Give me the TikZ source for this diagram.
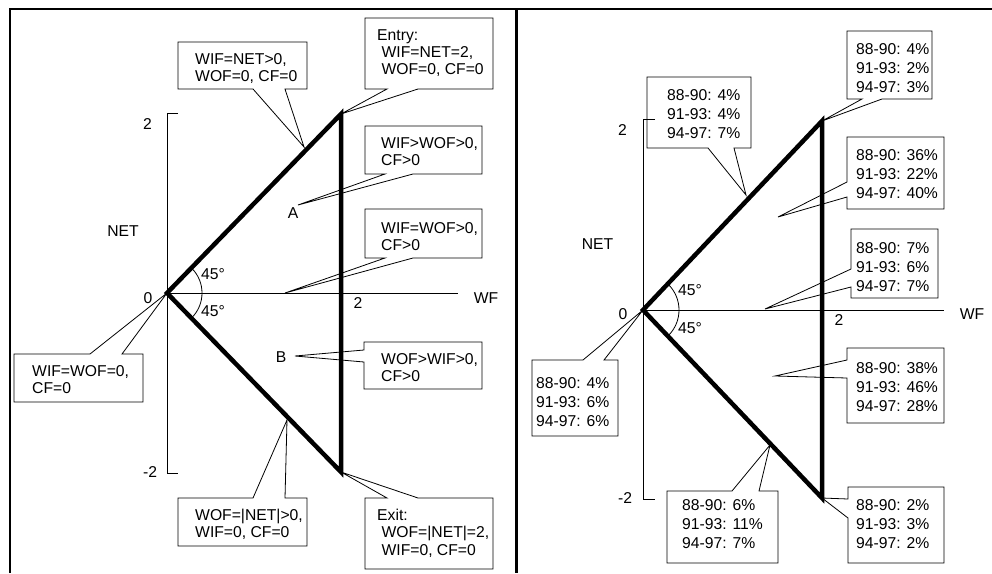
\documentclass[tikz,border=0pt]{standalone}
\usepackage{fontspec}
\setmainfont{Liberation Sans}
\begin{document}
\begin{tikzpicture}[x=1pt,y=-1pt,
  callout/.style={draw=black, line width=0.8pt, line join=miter},
  boldedge/.style={line width=4.5pt, line join=miter},
  axisline/.style={line width=0.8pt},
  framerule/.style={line width=2.6pt},
  lbl/.style={inner sep=0pt, font=\fontsize{15.7}{17.4}\selectfont},
  ltxt/.style={anchor=north west, inner sep=0pt, align=left, font=\fontsize{15.7}{17.4}\selectfont},
  rtxt/.style={anchor=north west, inner sep=0pt, align=left, font=\fontsize{15.7}{19.4}\selectfont},
]
\useasboundingbox (0,0) rectangle (992,573);
% frame
\coordinate (F1) at (10,573);
\coordinate (F2) at (10,9);
\coordinate (F3) at (992,9);
\coordinate (D1) at (516,9);
\coordinate (D2) at (516,573);
\draw[framerule] (F1) -- (F2) -- (F3);
\draw[line width=3pt] (D1) -- (D2);

% ================= left panel =================
\coordinate (LO) at (167,293);
\coordinate (LT) at (341,114);
\coordinate (LB) at (341,472);
\coordinate (LX) at (458,293);
\draw[axisline] (178,113) -- (167,113) -- (167,473) -- (178,473);
\draw[axisline] (LO) -- (LX);
\draw[boldedge] (LT) -- (LO) -- (LB) -- cycle;
\draw[axisline] ([shift={(24.75,24.75)}]LO) arc[start angle=45,end angle=-45,radius=35];

\node[lbl] (l2) at (147.5,124) {2};
\node[lbl] (lnet) at (123,231) {NET};
\node[lbl] (l0) at (148,298) {0};
\node[lbl] (lm2) at (150,472) {-2};
\node[lbl] (lwf) at (486,298) {WF};
\node[lbl] (lx2) at (358,303) {2};
\node[lbl] (la1) at (213,274) {45°};
\node[lbl] (la2) at (213,311) {45°};
\node[lbl] (lA) at (293,213) {A};
\node[lbl] (lB) at (281,357) {B};

\coordinate (p1) at (304,147);
\coordinate (p3) at (298,205);
\coordinate (p4) at (285,293);
\coordinate (p6) at (295,356);
\coordinate (p7) at (287,420);

\draw[callout] (178,42) -- (307,42) -- (307,89) -- (285,89) -- (p1) -- (253,89) -- (178,89) -- cycle;
\node[ltxt] (t1) at (195,53) {WIF=NET>0,\\WOF=0, CF=0};

\draw[callout] (365,18) -- (493,18) -- (493,89) -- (418,89) -- (LT) -- (387,89) -- (365,89) -- cycle;
\node[ltxt] (t2) at (377,29) {Entry:\\\hspace*{0.28em}WIF=NET=2,\\\hspace*{0.28em}WOF=0, CF=0};

\draw[callout] (365,126) -- (482,126) -- (482,174) -- (413,174) -- (p3) -- (385,174) -- (365,174) -- cycle;
\node[ltxt] (t3) at (381,137) {WIF>WOF>0,\\CF>0};

\draw[callout] (365,209) -- (482,209) -- (482,258) -- (413,258) -- (p4) -- (385,258) -- (365,258) -- cycle;
\node[ltxt] (t4) at (381,222) {WIF=WOF>0,\\CF>0};

\draw[callout] (14,354) -- (90,354) -- (LO) -- (122,354) -- (143,354) -- (143,402) -- (14,402) -- cycle;
\node[ltxt] (t5) at (32,365) {WIF=WOF=0,\\CF=0};

\draw[callout] (364,342) -- (482,342) -- (482,389) -- (364,389) -- (364,362) -- (p6) -- (364,350) -- cycle;
\node[ltxt] (t6) at (381,353) {WOF>WIF>0,\\CF>0};

\draw[callout] (178,498) -- (253,498) -- (p7) -- (285,498) -- (307,498) -- (307,546) -- (178,546) -- cycle;
\node[ltxt] (t7) at (195,509) {WOF=|NET|>0,\\WIF=0, CF=0};

\draw[callout] (365,498) -- (387,498) -- (LB) -- (418,498) -- (493,498) -- (493,569) -- (365,569) -- cycle;
\node[ltxt] (t8) at (377,509) {Exit:\\\hspace*{0.28em}WOF=|NET|=2,\\\hspace*{0.28em}WIF=0, CF=0};

% ================= right panel =================
\coordinate (RO) at (643,310);
\coordinate (RT) at (822,121);
\coordinate (RB) at (822,498);
\coordinate (RX) at (944,310);
\draw[axisline] (655,119) -- (643,119) -- (643,499) -- (655,499);
\draw[axisline] (RO) -- (RX);
\draw[boldedge] (RT) -- (RO) -- (RB) -- cycle;
\draw[axisline] ([shift={(25.46,25.46)}]RO) arc[start angle=45,end angle=-45,radius=36];

\node[lbl] (r2) at (622.5,130) {2};
\node[lbl] (rnet) at (597.5,244) {NET};
\node[lbl] (r0) at (623,314) {0};
\node[lbl] (rm2) at (625,498) {-2};
\node[lbl] (rwf) at (972,314) {WF};
\node[lbl] (rx2) at (839,320) {2};
\node[lbl] (ra1) at (690,290) {45°};
\node[lbl] (ra2) at (690,328) {45°};

\coordinate (q1) at (746,195);
\coordinate (q3) at (778,217);
\coordinate (q4) at (765,309);
\coordinate (q5) at (775,376);
\coordinate (q7) at (770,445);

\draw[callout] (647,77) -- (751,77) -- (751,148) -- (734,148) -- (q1) -- (708,148) -- (647,148) -- cycle;
\node[rtxt] (s1) at (667,89) {88-90: 4\%\\91-93: 4\%\\94-97: 7\%};

\draw[callout] (847,31) -- (932,31) -- (932,99) -- (882,99) -- (RT) -- (862,99) -- (847,99) -- cycle;
\node[rtxt] (s2) at (856,43) {88-90: 4\%\\91-93: 2\%\\94-97: 3\%};

\draw[callout] (847,137) -- (944,137) -- (944,209) -- (847,209) -- (847,197) -- (q3) -- (847,182) -- cycle;
\node[rtxt] (s3) at (856,149) {88-90: 36\%\\91-93: 22\%\\94-97: 40\%};

\draw[callout] (851,229) -- (938,229) -- (938,298) -- (851,298) -- (851,287) -- (q4) -- (851,269) -- cycle;
\node[rtxt] (s4) at (856,242) {88-90: 7\%\\91-93: 6\%\\94-97: 7\%};

\draw[callout] (847,348) -- (944,348) -- (944,423) -- (847,423) -- (847,378) -- (q5) -- (847,360) -- cycle;
\node[rtxt] (s5) at (856,362) {88-90: 38\%\\91-93: 46\%\\94-97: 28\%};

\draw[callout] (532,360) -- (583,360) -- (RO) -- (604,360) -- (618,360) -- (618,436) -- (532,436) -- cycle;
\node[rtxt] (s6) at (536,377) {88-90: 4\%\\91-93: 6\%\\94-97: 6\%};

\draw[callout] (667,491) -- (732,491) -- (q7) -- (759,491) -- (778,491) -- (778,563) -- (667,563) -- cycle;
\node[rtxt] (s7) at (682,499) {88-90: 6\%\\91-93: 11\%\\94-97: 7\%};

\draw[callout] (848,487) -- (944,487) -- (944,563) -- (848,563) -- (848,518) -- (RB) -- (848,499) -- cycle;
\node[rtxt] (s8) at (856,499) {88-90: 2\%\\91-93: 3\%\\94-97: 2\%};
\end{tikzpicture}
\end{document}
